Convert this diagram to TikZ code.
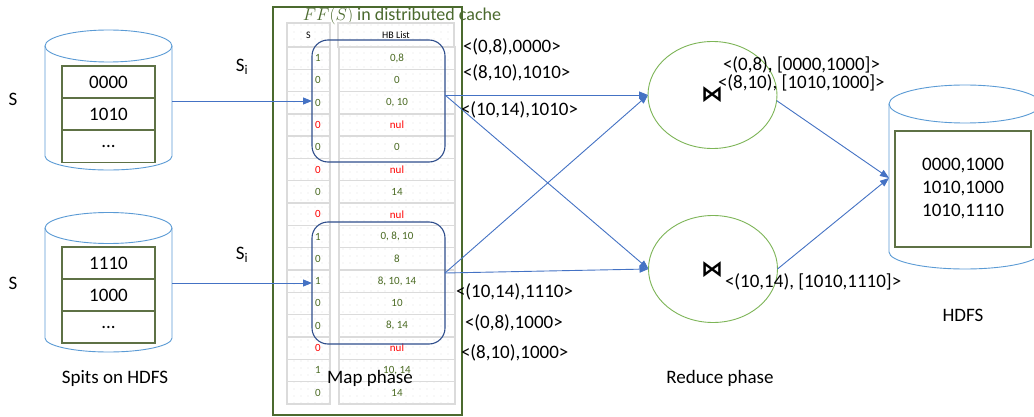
\documentclass[tikz,border=0pt]{standalone}
\usepackage{fontspec}
\setmainfont{Carlito}
\newfontfamily\djv{DejaVu Sans}
\usetikzlibrary{arrows.meta,shapes.geometric,patterns.meta}
\definecolor{cylblue}{HTML}{5B9BD5}
\definecolor{tabgreen}{HTML}{5E7145}
\definecolor{mapgreen}{HTML}{4B6A2E}
\definecolor{redgreen}{HTML}{7DB557}
\definecolor{grpblue}{HTML}{2F4E8C}
\definecolor{arrblue}{HTML}{4472C4}
\definecolor{txtgreen}{HTML}{4A6A22}
\definecolor{txtred}{HTML}{FF0000}
\begin{document}
\begin{tikzpicture}[x=1pt,y=-1pt,
  every node/.style={inner sep=0pt, outer sep=0pt},
  lbl/.style={font=\fontsize{19}{22}\selectfont, text=black},
  cyl/.style={draw=cylblue, line width=0.9pt},
  intab/.style={draw=tabgreen, line width=1.2pt, minimum width=93pt, minimum height=32pt, font=\fontsize{19}{22}\selectfont},
  cell/.style={draw=black!14, line width=1.4pt, pattern={Dots[distance=7pt,radius=0.4pt]}, pattern color=black!30},
  dat/.style={font=\fontsize{11}{13}\selectfont},
  grp/.style={draw=grpblue, line width=1.1pt, rounded corners=16pt},
  arr/.style={draw=arrblue, line width=0.9pt, -{Triangle[length=9pt,width=7pt]}},
  redu/.style={draw=redgreen, line width=0.9pt, ellipse, minimum width=129pt, minimum height=107pt},
  joinsym/.style={font=\djv\bfseries\fontsize{22}{22}\selectfont}
]
\useasboundingbox (0,0) rectangle (1034,417);
\fill[white] (0,0) rectangle (1034,417);

% left cylinders
\node[cyl, ellipse, minimum width=127pt, minimum height=32pt] (cy1t) at (108.5,46) {};
\draw[cyl] (cy1t.west) -- (45,156) .. controls (45,163.73) and (73.43,170) .. (108.5,170) .. controls (143.57,170) and (172,163.73) .. (172,156) -- (cy1t.east);
\node[intab] (t11) at (108.5,82) {0000};
\node[intab] (t12) at (108.5,114) {1010};
\node[intab] (t13) at (108.5,146.5) {...};

\node[cyl, ellipse, minimum width=127pt, minimum height=31pt] (cy2t) at (108.5,228) {};
\draw[cyl] (cy2t.west) -- (45,338) .. controls (45,345.73) and (73.43,352) .. (108.5,352) .. controls (143.57,352) and (172,345.73) .. (172,338) -- (cy2t.east);
\node[intab] (t21) at (108.5,263) {1110};
\node[intab] (t22) at (108.5,295) {1000};
\node[intab] (t23) at (108.5,327) {...};

% right cylinder
\node[cyl, ellipse, minimum width=152pt, minimum height=38pt] (cy3t) at (965,104) {};
\draw[cyl] (cy3t.west) -- (889,252) .. controls (889,261.39) and (923.03,269) .. (965,269) .. controls (1006.97,269) and (1041,261.39) .. (1041,252) -- (cy3t.east);
\node[draw=tabgreen, line width=1.2pt, minimum width=136pt, minimum height=116pt, align=center, font=\fontsize{19}{23}\selectfont] (hb) at (963,189) {0000,1000\\1010,1000\\1010,1110};

% map phase frame
\node[draw=mapgreen, line width=2pt, minimum width=189pt, minimum height=408pt] (map) at (367.5,211) {};
\node[font=\fontsize{18}{20}\selectfont, text=mapgreen] (title) at (402,16) {$FF(S)$ in distributed cache};

% table
\node[cell, minimum width=43pt, minimum height=24pt, font=\fontsize{10}{12}\selectfont] (s0) at (308.5,35) {S};
\node[cell, minimum width=116pt, minimum height=24pt, font=\fontsize{10}{12}\selectfont] (h0) at (396,35) {HB List};
\foreach \i/\s/\h/\c in {1/1/{0,8}/txtgreen, 2/0/0/txtgreen, 3/0/{0, 10}/txtgreen, 4/0/nul/txtred,
  5/0/0/txtgreen, 6/0/nul/txtred, 7/0/14/txtgreen, 8/0/nul/txtred, 9/1/{0, 8, 10}/txtgreen,
  10/0/8/txtgreen, 11/1/{8, 10, 14}/txtgreen, 12/0/10/txtgreen, 13/0/{8, 14}/txtgreen,
  14/0/nul/txtred, 15/1/{10, 14}/txtgreen, 16/0/14/txtgreen}{
  \pgfmathsetmacro\yc{47+22.3*(\i-0.5)}
  \node[cell, dat, minimum width=43pt, minimum height=22.3pt, text=\c] (s\i) at (308.5,\yc) {\hspace*{19pt}\s};
  \node[cell, dat, minimum width=116pt, minimum height=22.3pt, text=\c] (h\i) at (397,\yc) {\h};
}

% groups
\node[grp, minimum width=133pt, minimum height=122pt] (g1) at (378.5,101) {};
\node[grp, minimum width=133pt, minimum height=122pt] (g2) at (378.5,283) {};

% reduce ellipses
\node[redu] (r1) at (712.5,95) {};
\node[redu] (r2) at (713,269) {};
\node[joinsym] (j1) at (712,95) {⋈};
\node[joinsym] (j2) at (712,270) {⋈};

% arrows
\coordinate (c1r) at (172,101);
\coordinate (c2r) at (172,283);
\draw[arr] (c1r) -- (g1.west);
\draw[arr] (c2r) -- (g2.west);
\coordinate (o1) at (445,95);
\coordinate (o2) at (445,273);
\draw[arr] (o1) -- (r1.west);
\draw[arr] (o1) -- (r2.west);
\draw[arr] (o2) -- (r2.west);
\draw[arr] (o2) -- (r1.west);
\coordinate (hin) at (889,178);
\draw[arr] (r1.-5) -- (hin);
\draw[arr] (r2.east) -- (hin);

% labels
\node[lbl] (sA) at (13,99) {S};
\node[lbl] (sB) at (13,283) {S};
\node[lbl] (si1) at (242,67) {S\textsubscript{i}};
\node[lbl] (si2) at (242,255) {S\textsubscript{i}};
\node[lbl, anchor=west] (l1) at (463,47) {<(0,8),0000>};
\node[lbl, anchor=west] (l2) at (463,73) {<(8,10),1010>};
\node[lbl, anchor=west] (l3) at (461,110) {<(10,14),1010>};
\node[lbl, anchor=west] (l4) at (456,292) {<(10,14),1110>};
\node[lbl, anchor=west] (l5) at (465,323) {<(0,8),1000>};
\node[lbl, anchor=west] (l6) at (461,353) {<(8,10),1000>};
\node[lbl, anchor=west] (l7) at (723,65) {<(0,8), [0000,1000]>};
\node[lbl, anchor=west] (l8) at (718,83) {<(8,10), [1010,1000]>};
\node[lbl, anchor=west] (l9) at (725,282) {<(10,14), [1010,1110]>};
\node[lbl] (b1) at (115,378) {Spits on HDFS};
\node[lbl] (b2) at (370,378) {Map phase};
\node[lbl] (b3) at (720,378) {Reduce phase};
\node[lbl] (b4) at (963,315) {HDFS};
\end{tikzpicture}
\end{document}
